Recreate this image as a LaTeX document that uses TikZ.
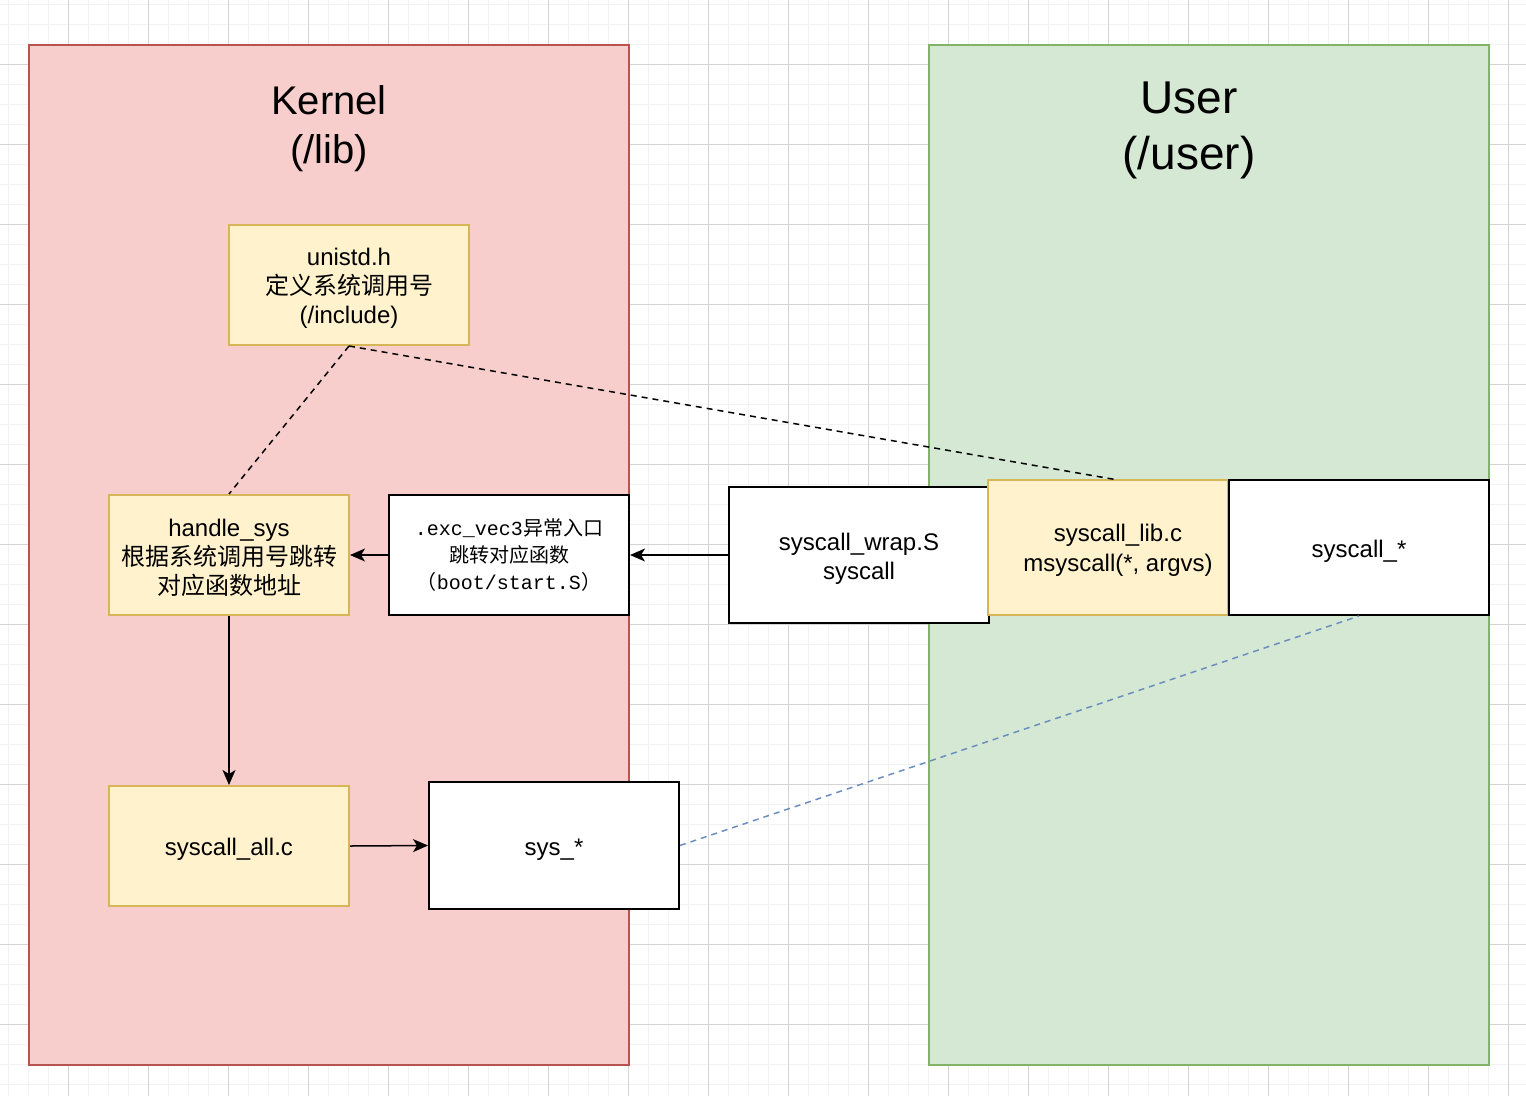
\documentclass[tikz,border=0pt]{standalone}
\usepackage{fontspec}
\setmainfont{Liberation Sans}
\newfontfamily\cjk{Noto Sans CJK SC}
\newfontfamily\mono{Liberation Mono}
\usetikzlibrary{arrows.meta}
\definecolor{kfill}{HTML}{F8CECC}
\definecolor{kdraw}{HTML}{B85450}
\definecolor{ufill}{HTML}{D5E8D4}
\definecolor{udraw}{HTML}{82B366}
\definecolor{yfill}{HTML}{FFF2CC}
\definecolor{ydraw}{HTML}{D6B656}
\definecolor{bdash}{HTML}{6C8EBF}
\definecolor{gminor}{HTML}{F2F2F2}
\definecolor{gmajor}{HTML}{D4D4D4}
\newcommand{\tallfirst}{\rule{0pt}{24pt}}
\begin{document}
\begin{tikzpicture}[x=1pt,y=-1pt,
  region/.style={line width=2pt},
  ybox/.style={draw=ydraw,fill=yfill,line width=2pt,align=center,inner sep=0pt,font=\fontsize{24}{29}\selectfont},
  wbox/.style={draw=black,fill=white,line width=2pt,align=center,inner sep=0pt,font=\fontsize{24}{29}\selectfont},
  titletext/.style={anchor=base,inner sep=0pt},
  conn/.style={line width=1.5pt,-{Stealth[length=15pt,width=13pt,inset=4pt]}},
  dashline/.style={line width=1.5pt,dash pattern=on 6pt off 5pt}
]
\fill[white] (0,0) rectangle (1526,1096);
\useasboundingbox (0,0) rectangle (1526,1096);
% grid
\foreach \x in {8,28,...,1526} \draw[gminor,line width=1pt] (\x,0) -- (\x,1096);
\foreach \y in {4,24,...,1096} \draw[gminor,line width=1pt] (0,\y) -- (1526,\y);
\foreach \x in {68,148,...,1526} \draw[gmajor,line width=1pt] (\x,0) -- (\x,1096);
\foreach \y in {64,144,...,1096} \draw[gmajor,line width=1pt] (0,\y) -- (1526,\y);
% regions
\draw[region,draw=kdraw,fill=kfill] (29,45) rectangle (629,1065);
\draw[region,draw=udraw,fill=ufill] (929,45) rectangle (1489,1065);
% titles
\node[titletext,font=\fontsize{40}{48}\selectfont] (kt1) at (329,114) {Kernel};
\node[titletext,font=\fontsize{40}{48}\selectfont] (kt2) at (329,163) {(/lib)};
\node[titletext,font=\fontsize{46}{53}\selectfont] (ut1) at (1189,113) {User};
\node[titletext,font=\fontsize{46}{53}\selectfont] (ut2) at (1189,169) {(/user)};
% nodes
\node[ybox,minimum width=240pt,minimum height=120pt] (unistd) at (349,285) {\tallfirst unistd.h\\{\cjk 定义系统调用号}\\(/include)};
\node[ybox,minimum width=240pt,minimum height=120pt] (handle) at (229,555) {\tallfirst handle\_sys\\{\cjk 根据系统调用号跳转}\\{\cjk 对应函数地址}};
\node[wbox,minimum width=240pt,minimum height=120pt,font=\fontsize{20}{27}\selectfont] (exc) at (509,555) {{\mono .exc\_vec3}{\cjk 异常入口}\\{\cjk 跳转对应函数}\\{\cjk （}{\mono boot/start.S}{\cjk ）}};
\node[wbox,minimum width=260pt,minimum height=136pt] (wrap) at (859,555) {\tallfirst syscall\_wrap.S\\syscall};
\node[ybox,minimum width=240pt,minimum height=135pt] (lib) at (1108,547.5) {};
\node[align=center,inner sep=0pt,font=\fontsize{24}{30}\selectfont] (libtext) at (1118,550.5) {syscall\_lib.c\\msyscall(*, argvs)};
\node[wbox,minimum width=260pt,minimum height=135pt] (sysstar) at (1359,547.5) {\tallfirst syscall\_*};
\node[ybox,minimum width=240pt,minimum height=120pt] (all) at (229,846) {\tallfirst syscall\_all.c};
\node[wbox,minimum width=250pt,minimum height=127pt] (sys) at (554,845.5) {\tallfirst sys\_*};
\coordinate (libtop) at (1118,480);
% connectors
\draw[dashline] (unistd.south) -- (handle.north);
\draw[dashline] (unistd.south) -- (libtop);
\draw[conn] (exc.west) -- (handle.east);
\draw[conn] (wrap.west) -- (exc.east);
\draw[conn] (handle.south) -- (all.north);
\draw[conn] (all.east) -- (sys.west);
\draw[dashline,bdash] (sys.east) -- (sysstar.south);
\end{tikzpicture}
\end{document}
